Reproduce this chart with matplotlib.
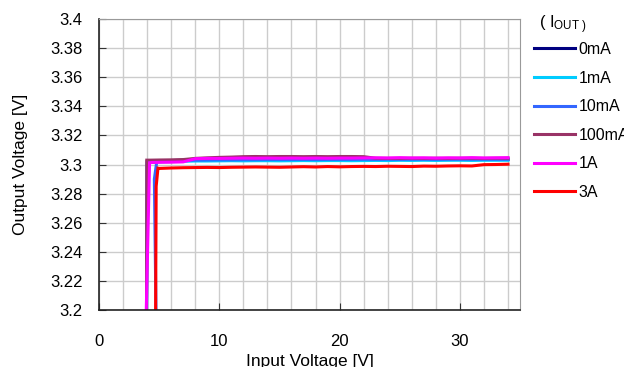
import matplotlib
matplotlib.use('Agg')
import matplotlib.pyplot as plt

plt.rcParams['font.family'] = ['Liberation Sans', 'DejaVu Sans']
plt.rcParams['mathtext.fontset'] = 'custom'
plt.rcParams['mathtext.rm'] = 'Liberation Sans'
plt.rcParams['mathtext.it'] = 'Liberation Sans'

# input voltage grid for the regulated part
vin = [5, 6, 7, 8, 9, 10, 11, 12, 13, 14, 15, 16, 17, 18, 19, 20,
       21, 22, 23, 24, 25, 26, 27, 28, 29, 30, 31, 32, 33, 34]

labels = ['0mA', '1mA', '10mA', '100mA', '1A', '3A']
colors = ['#000080', '#00ccff', '#3366ff', '#993366', '#ff00ff', '#ff0000']

# start of each curve (dropout region): x, y pairs
start_x = [[3.95, 4.0, 4.3], [3.95, 4.0, 4.3], [4.75, 4.6, 4.8],
           [3.95, 3.97, 4.3], [3.9, 4.2, 4.4], [4.7, 4.75, 4.9]]
start_y = [[3.19, 3.302, 3.302], [3.19, 3.301, 3.3015], [3.19, 3.29, 3.302],
           [3.19, 3.303, 3.303], [3.19, 3.3012, 3.3014], [3.19, 3.285, 3.2975]]

out_0mA = [3.3025, 3.3027, 3.3030, 3.3033, 3.3034, 3.3035, 3.3035, 3.3036, 3.3036, 3.3036,
           3.3036, 3.3037, 3.3036, 3.3036, 3.3036, 3.3036, 3.3035, 3.3035, 3.3034, 3.3034,
           3.3034, 3.3034, 3.3035, 3.3034, 3.3034, 3.3035, 3.3034, 3.3035, 3.3035, 3.3035]
out_1mA = [3.3018, 3.3020, 3.3022, 3.3024, 3.3024, 3.3025, 3.3026, 3.3025, 3.3026, 3.3026,
           3.3025, 3.3026, 3.3027, 3.3026, 3.3027, 3.3027, 3.3026, 3.3027, 3.3028, 3.3027,
           3.3029, 3.3028, 3.3029, 3.3028, 3.3029, 3.3029, 3.3028, 3.3029, 3.3029, 3.3029]
out_10mA = [3.3024, 3.3026, 3.3028, 3.3030, 3.3031, 3.3032, 3.3032, 3.3033, 3.3033, 3.3034,
            3.3034, 3.3034, 3.3035, 3.3034, 3.3035, 3.3035, 3.3035, 3.3036, 3.3035, 3.3036,
            3.3035, 3.3036, 3.3036, 3.3035, 3.3036, 3.3036, 3.3036, 3.3036, 3.3036, 3.3036]
out_100mA = [3.3031, 3.3032, 3.3034, 3.3042, 3.3046, 3.3049, 3.3051, 3.3054, 3.3055, 3.3054,
             3.3055, 3.3055, 3.3054, 3.3055, 3.3054, 3.3055, 3.3055, 3.3054, 3.3043, 3.3042,
             3.3042, 3.3043, 3.3042, 3.3043, 3.3042, 3.3043, 3.3043, 3.3042, 3.3043, 3.3043]
out_1A = [3.3015, 3.3016, 3.3018, 3.3040, 3.3042, 3.3042, 3.3043, 3.3044, 3.3043, 3.3044,
          3.3043, 3.3044, 3.3043, 3.3044, 3.3043, 3.3044, 3.3044, 3.3045, 3.3046, 3.3045,
          3.3047, 3.3045, 3.3046, 3.3044, 3.3046, 3.3045, 3.3047, 3.3045, 3.3046, 3.3047]
out_3A = [3.2973, 3.2976, 3.2978, 3.2979, 3.2980, 3.2979, 3.2981, 3.2982, 3.2983, 3.2982,
          3.2981, 3.2983, 3.2985, 3.2983, 3.2986, 3.2984, 3.2986, 3.2987, 3.2986, 3.2988,
          3.2987, 3.2986, 3.2989, 3.2988, 3.2990, 3.2991, 3.2990, 3.2999, 3.3000, 3.3002]

series = [out_0mA, out_1mA, out_10mA, out_100mA, out_1A, out_3A]
order = [0, 1, 2, 3, 5, 4]  # drawing order, magenta on top

fig = plt.figure(figsize=(6.24, 3.67), dpi=100)
ax = fig.add_axes([0.1587, 0.1553, 0.6747, 0.7929])

lines = {}
for i in order:
    xs = start_x[i] + vin
    ys = start_y[i] + series[i]
    ln, = ax.plot(xs, ys, color=colors[i], lw=2.2, label=labels[i],
                  solid_joinstyle='miter')
    lines[i] = ln

ax.set_xlim(0, 35)
ax.set_ylim(3.2, 3.4)
ax.set_xticks([0, 10, 20, 30])
ax.set_xticks(range(0, 36, 2), minor=True)
ax.set_yticks([3.2 + 0.02 * k for k in range(11)])
ax.set_yticklabels(['3.2', '3.22', '3.24', '3.26', '3.28', '3.3',
                    '3.32', '3.34', '3.36', '3.38', '3.4'])
ax.grid(True, which='both', axis='x', color='#cccccc', lw=1)
ax.grid(True, which='major', axis='y', color='#cccccc', lw=1)
ax.set_axisbelow(True)
ax.tick_params(axis='y', direction='in', length=5, labelsize=12, pad=12, color='#333333')
ax.tick_params(axis='x', which='major', direction='in', length=5, labelsize=12,
               pad=17, color='#333333')
ax.tick_params(axis='x', which='minor', length=0)
for s in ['top', 'right']:
    ax.spines[s].set_color('#999999')
for s in ['left', 'bottom']:
    ax.spines[s].set_color('#222222')
    ax.spines[s].set_linewidth(1.2)

ax.set_xlabel('Input Voltage [V]', fontsize=12.5, labelpad=4)
ax.set_ylabel('Output Voltage [V]', fontsize=12.5, labelpad=16)

leg = ax.legend(handles=[lines[i] for i in range(6)], loc='center left',
                bbox_to_anchor=(1.0, 0.6495), frameon=False, fontsize=11.5,
                handlelength=2.55, handletextpad=0.2, labelspacing=0.85,
                borderaxespad=0.5)
fig.text(0.863, 0.932, r'( I$_{\mathrm{OUT}\ )}$', fontsize=12, va='center', ha='left')

fig.savefig('out.png', dpi=100)
